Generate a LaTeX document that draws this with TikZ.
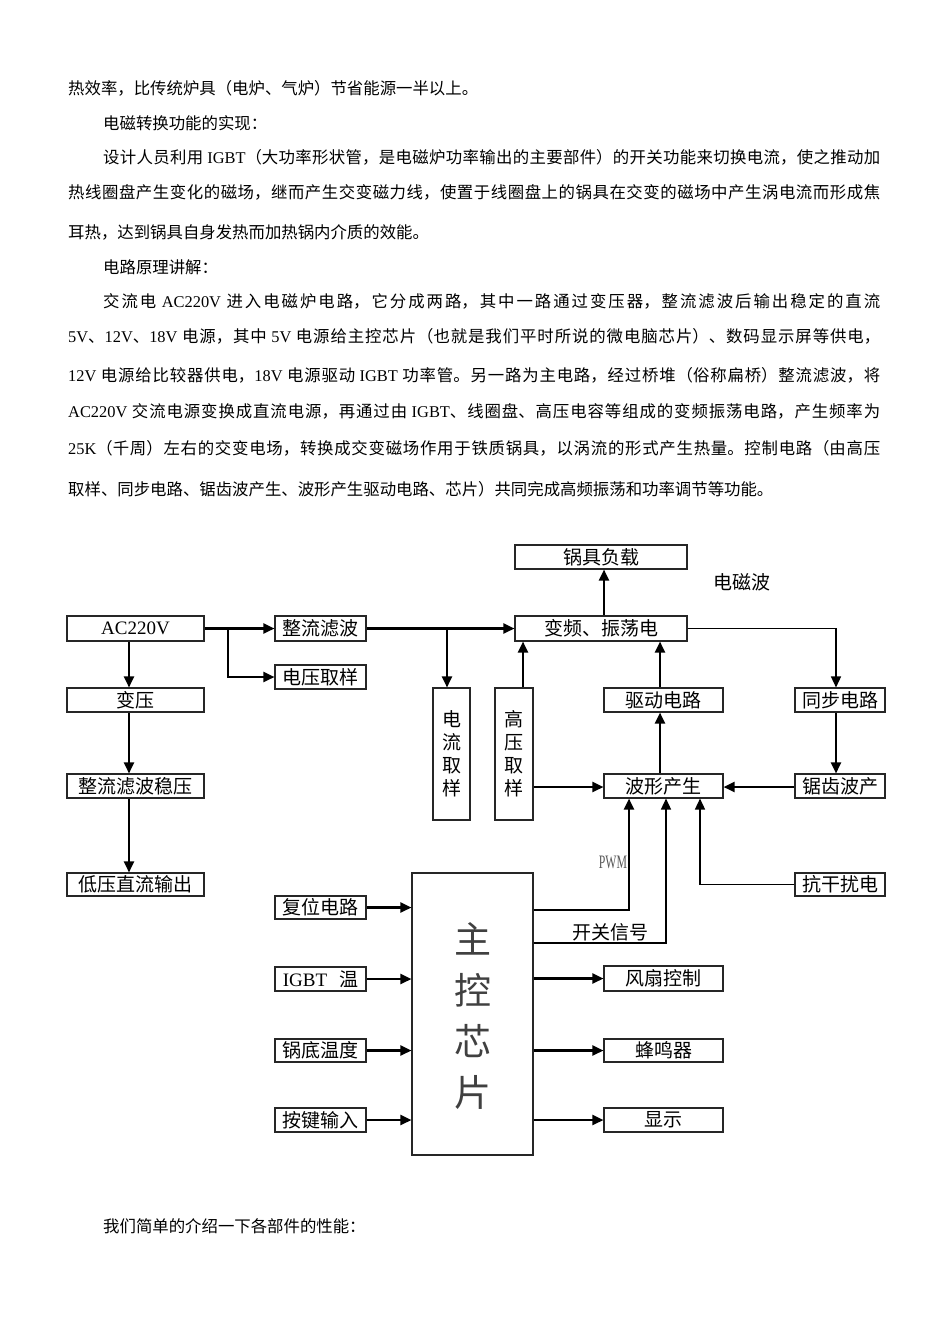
\documentclass[tikz,border=0pt]{standalone}
\usepackage{fontspec}
\usepackage{graphicx}
\setmainfont{Noto Sans CJK SC}
\newfontfamily\tms{Liberation Serif}
\usetikzlibrary{arrows.meta}
\newcommand\jline[2]{\parbox{#1pt}{\XeTeXlinebreaklocale "zh"\XeTeXlinebreakskip=0pt plus 2pt\tolerance=10000\parfillskip=0pt\parindent=0pt\noindent #2}}
\tikzset{
  tl/.style={anchor=west, inner sep=0pt, font=\fontsize{16.4}{20}\selectfont},
  blk/.style={draw=black!85, line width=1.1pt, inner sep=0pt, font=\fontsize{19}{23}\selectfont, text=black},
  lbl/.style={inner sep=0pt, font=\fontsize{19}{23}\selectfont, text=black},
  wire/.style={line width=2.2pt, -{Triangle[length=11pt,width=10pt]}},
  thinwire/.style={line width=1.5pt, -{Triangle[length=11pt,width=10pt]}},
}
\begin{document}
\begin{tikzpicture}[x=1pt,y=-1pt]
\fill[white] (0,0) rectangle (950,1344);
\useasboundingbox (0,0) rectangle (950,1344);

% ---------- body text ----------
\node[tl] (t1) at (68,88) {热效率，比传统炉具（电炉、气炉）节省能源一半以上。};
\node[tl] (t2) at (103,123) {电磁转换功能的实现：};
\node[tl] (t3) at (103,157) {\jline{777}{设计人员利用 {\tms IGBT}（大功率形状管，是电磁炉功率输出的主要部件）的开关功能来切换电流，使之推动加}};
\node[tl] (t4) at (68,192) {\jline{812}{热线圈盘产生变化的磁场，继而产生交变磁力线，使置于线圈盘上的锅具在交变的磁场中产生涡电流而形成焦}};
\node[tl] (t5) at (68,232) {耳热，达到锅具自身发热而加热锅内介质的效能。};
\node[tl] (t6) at (103,267) {电路原理讲解：};
\node[tl] (t7) at (103,301) {\jline{777}{交流电 {\tms AC220V} 进入电磁炉电路，它分成两路，其中一路通过变压器，整流滤波后输出稳定的直流}};
\node[tl] (t8) at (68,336) {\jline{812}{{\tms 5V}、{\tms 12V}、{\tms 18V} 电源，其中 {\tms 5V} 电源给主控芯片（也就是我们平时所说的微电脑芯片）、数码显示屏等供电，}};
\node[tl] (t9) at (68,375) {\jline{812}{{\tms 12V} 电源给比较器供电，{\tms 18V} 电源驱动 {\tms IGBT} 功率管。另一路为主电路，经过桥堆（俗称扁桥）整流滤波，将}};
\node[tl] (t10) at (68,411) {\jline{812}{{\tms AC220V} 交流电源变换成直流电源，再通过由 {\tms IGBT}、线圈盘、高压电容等组成的变频振荡电路，产生频率为}};
\node[tl] (t11) at (68,448) {\jline{812}{{\tms 25K}（千周）左右的交变电场，转换成交变磁场作用于铁质锅具，以涡流的形式产生热量。控制电路（由高压}};
\node[tl] (t12) at (68,489) {取样、同步电路、锯齿波产生、波形产生驱动电路、芯片）共同完成高频振荡和功率调节等功能。};
\node[tl] (t13) at (103,1226) {我们简单的介绍一下各部件的性能：};

% ---------- blocks ----------
\node[blk, minimum width=137pt, minimum height=25pt] (ac) at (135.5,628.5) {\tms AC220V};
\node[blk, minimum width=91pt, minimum height=25pt] (zl) at (320.5,628.5) {整流滤波};
\node[blk, minimum width=91pt, minimum height=24pt] (dy) at (320.5,677) {电压取样};
\node[blk, minimum width=172pt, minimum height=24pt] (gj) at (601,557) {锅具负载};
\node[lbl] (em) at (742,582) {电磁波};
\node[blk, minimum width=172pt, minimum height=25pt] (bp) at (601,628.5) {变频、振荡电};
\node[blk, minimum width=137pt, minimum height=24pt] (by) at (135.5,700) {变压};
\node[blk, minimum width=37pt, minimum height=132pt, align=center] (dl) at (451.5,754) {电\\流\\取\\样};
\node[blk, minimum width=38pt, minimum height=132pt, align=center] (gy) at (514,754) {高\\压\\取\\样};
\node[blk, minimum width=119pt, minimum height=24pt] (qd) at (663.5,700) {驱动电路};
\node[blk, minimum width=90pt, minimum height=24pt] (tb) at (840,700) {同步电路};
\node[blk, minimum width=137pt, minimum height=24pt] (zlw) at (135.5,786) {整流滤波稳压};
\node[blk, minimum width=119pt, minimum height=24pt] (wave) at (663.5,786) {波形产生};
\node[blk, minimum width=90pt, minimum height=24pt] (jc) at (840,786) {锯齿波产};
\node[blk, minimum width=137pt, minimum height=23pt] (dc) at (135.5,884.5) {低压直流输出};
\node[blk, minimum width=90pt, minimum height=23pt] (kg) at (840,884.5) {抗干扰电};
\node[blk, minimum width=121pt, minimum height=282pt] (chip) at (472.5,1014) {};
\node[inner sep=0pt, align=center, text=black!75, font=\fontsize{37}{51}\selectfont] (chipt) at (472.5,1016) {主\\控\\芯\\片};
\node[blk, minimum width=91pt, minimum height=23pt] (fw) at (320.5,907.5) {复位电路};
\node[blk, minimum width=91pt, minimum height=24pt] (igbt) at (320.5,979) {{\tms IGBT}\hspace{12pt}温};
\node[blk, minimum width=119pt, minimum height=25pt] (fs) at (663.5,978.5) {风扇控制};
\node[blk, minimum width=91pt, minimum height=23pt] (gd) at (320.5,1050.5) {锅底温度};
\node[blk, minimum width=119pt, minimum height=23pt] (fm) at (663.5,1050.5) {蜂鸣器};
\node[blk, minimum width=91pt, minimum height=24pt] (aj) at (320.5,1120) {按键输入};
\node[blk, minimum width=119pt, minimum height=24pt] (xs) at (663.5,1120) {显示};
\node[inner sep=0pt, text=black!65, font=\tms\fontsize{19}{23}\selectfont] (pwm) at (613,862) {\scalebox{0.62}[1]{PWM}};
\node[lbl] (kgx) at (610,932) {开关信号};

% ---------- connectors ----------
\coordinate (xa) at (129,0);
\coordinate (xb) at (228,0);
\coordinate (xc) at (447,0);
\coordinate (xd) at (523,0);
\coordinate (xe) at (604,0);
\coordinate (xf) at (660,0);
\coordinate (xg) at (836,0);
\coordinate (xk) at (700,0);
\coordinate (ya) at (0,787);
\coordinate (pw) at (629,910);
\coordinate (kk) at (666,943);

\draw[wire] (ac.south -| xa) -- (by.north -| xa);
\draw[wire] (by.south -| xa) -- (zlw.north -| xa);
\draw[wire] (zlw.south -| xa) -- (dc.north -| xa);
\draw[wire] (ac.east) -- (zl.west);
\draw[wire] (ac.east -| xb) |- (dy.west);
\draw[wire] (zl.east) -- (bp.west);
\draw[wire] (zl.east -| xc) -- (dl.north -| xc);
\draw[wire] (gy.north -| xd) -- (bp.south -| xd);
\draw[wire] (bp.north -| xe) -- (gj.south -| xe);
\draw[wire] (qd.north -| xf) -- (bp.south -| xf);
\draw[thinwire] (bp.east) -| (tb.north -| xg);
\draw[wire] (tb.south -| xg) -- (jc.north -| xg);
\draw[wire] (gy.east |- ya) -- (wave.west |- ya);
\draw[wire] (jc.west |- ya) -- (wave.east |- ya);
\draw[wire] (wave.north -| xf) -- (qd.south -| xf);
\draw[wire] (chip.east |- pw) -| (wave.south -| pw);
\draw[thinwire] (chip.east |- kk) -| (wave.south -| kk);
\draw[thinwire] (kg.west) -| (wave.south -| xk);
\draw[wire] (fw.east) -- (chip.west |- fw.east);
\draw[wire] (igbt.east) -- (chip.west |- igbt.east);
\draw[wire] (gd.east) -- (chip.west |- gd.east);
\draw[wire] (aj.east) -- (chip.west |- aj.east);
\draw[wire] (chip.east |- fs.west) -- (fs.west);
\draw[wire] (chip.east |- fm.west) -- (fm.west);
\draw[wire] (chip.east |- xs.west) -- (xs.west);
\end{tikzpicture}
\end{document}
